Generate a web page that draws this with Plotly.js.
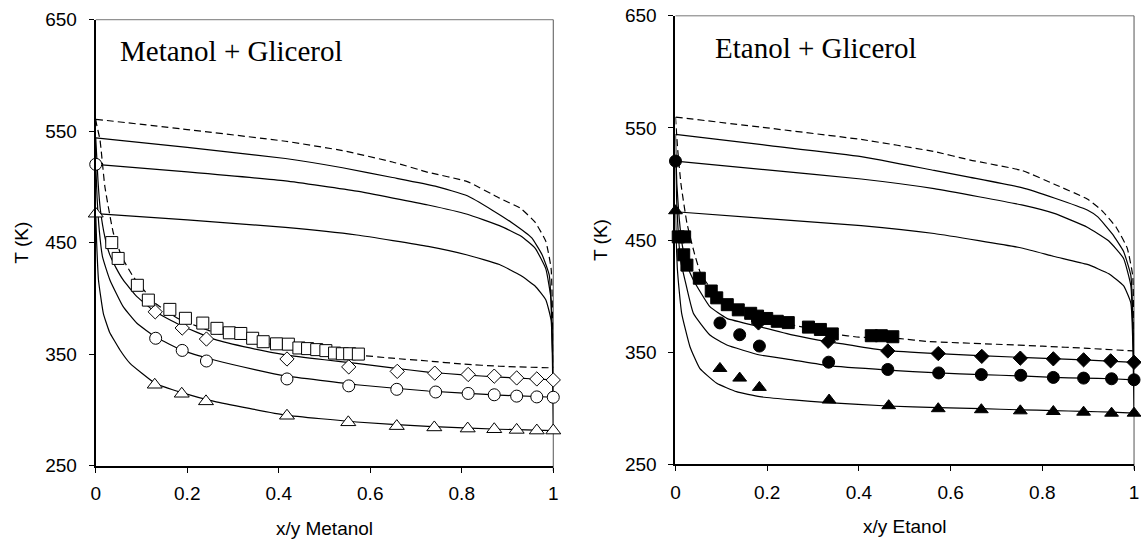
<!DOCTYPE html>
<html>
<head>
<meta charset="utf-8">
<script src="https://cdn.plot.ly/plotly-3.0.1.min.js"></script>
<style>html,body{margin:0;padding:0;background:#fff;}#chart{width:1141px;height:540px;}</style>
</head>
<body>
<div id="chart"></div>
<script>
// ---------- Metanol + Glicerol (left) ----------
var met_sq_x = [0.035,0.049,0.091,0.115,0.162,0.196,0.234,0.265,0.292,0.317,0.343,0.366,0.395,0.421,0.444,0.463,0.483,0.503,0.522,0.539,0.555,0.574];
var met_sq_T = [450.1,435.9,411.8,398.5,390.2,382.2,377.9,373.2,369.2,368.6,364.3,361.2,359.3,359.0,355.6,355.0,354.1,353.2,351.0,350.4,350.4,350.1];
var met_di_x = [0.130,0.189,0.242,0.418,0.553,0.659,0.741,0.814,0.871,0.920,0.964,1.0];
var met_di_T = [388.0,373.5,363.6,345.7,338.6,334.6,333.0,331.8,330.3,328.7,327.8,326.9];
var met_ci_x = [0,0.131,0.189,0.242,0.418,0.553,0.658,0.743,0.814,0.871,0.920,0.964,1.0];
var met_ci_T = [520.3,364.3,353.4,343.9,327.8,321.6,318.5,316.1,314.8,313.6,312.4,311.7,311.4];
var met_tr_x = [0,0.129,0.188,0.241,0.418,0.552,0.658,0.740,0.813,0.871,0.920,0.964,1.0];
var met_tr_T = [476.0,322.6,314.5,307.7,294.8,288.9,285.5,284.3,283.3,282.7,282.1,281.5,281.5];

var met_dash_bub_x = [0,0.002,0.0094,0.020,0.0385,0.057,0.082,0.13,0.181,0.259,0.337,0.415,0.57,0.648,0.726,0.804,0.882,1];
var met_dash_bub_T = [560.7,556,542,500.2,458.7,437.4,419.5,395.8,381.8,369.5,361.8,357.2,349.4,346.4,343.9,341.1,339.2,337.7];
var met_dash_dew_x = [0,0.2,0.4146,0.5394,0.6485,0.7264,0.8121,0.8823,0.929,0.9602,0.9836,0.9953,1];
var met_dash_dew_T = [560.7,551.5,541.0,532.6,522.4,513.2,504.8,490.0,480.7,468.4,451.4,426.7,337.7];
var met_dew1_x = [0,0.2,0.4146,0.5394,0.6485,0.742,0.8121,0.8667,0.9135,0.9525,0.9758,0.9914,1];
var met_dew1_T = [544,535.5,525.5,517.2,508.5,500.8,492.1,479.2,466.8,454.5,439,420.5,326.9];
var met_dew2_x = [0,0.2,0.4146,0.5705,0.7264,0.8121,0.8823,0.929,0.9602,0.9836,0.9953,1];
var met_dew2_T = [520.3,513.5,505.4,496.2,483.8,475.5,465.3,456,445.2,426.7,398.9,311.4];
var met_dew3_x = [0,0.2,0.4146,0.5705,0.7264,0.8121,0.8823,0.929,0.9602,0.9836,0.9953,1];
var met_dew3_T = [476,470.5,463.7,456.9,446.7,439,430.4,420.5,411.2,398.9,380.3,281.5];
var met_bub1_x = [0,0.005,0.01,0.02,0.03,0.045,0.06,0.09,0.13,0.184,0.26,0.337,0.415,0.5,0.57,0.648,0.726,0.804,0.882,0.95,1];
var met_bub1_T = [544,505,480,455,440,427,416.6,401.6,388,376.2,363.3,355.6,349.4,345,341.7,337.7,334,331.5,329.4,328,326.9];
var met_bub2_x = [0,0.003,0.008,0.015,0.031,0.06,0.09,0.132,0.189,0.259,0.35,0.415,0.57,0.726,0.882,1];
var met_bub2_T = [520.3,490,460,437,416.6,392.6,377.7,365.1,353.4,344.8,336,330.5,322.6,317,313.3,311.4];
var met_bub3_x = [0,0.002,0.006,0.0166,0.03,0.053,0.075,0.13,0.188,0.259,0.415,0.57,0.726,0.882,1];
var met_bub3_T = [476,450,416.6,386.7,370,353.8,341.8,323.9,315.5,307.7,295.4,289.2,285.2,282.7,281.5];

// ---------- Etanol + Glicerol (right) ----------
var eta_sq_x = [0.006,0.018,0.020,0.025,0.052,0.078,0.090,0.113,0.137,0.164,0.179,0.199,0.222,0.246,0.290,0.316,0.342,0.427,0.449,0.474];
var eta_sq_T = [452.8,436.8,452.8,427.6,415.9,404.5,398.4,392.3,387.7,384.6,382.1,380.0,377.5,376.3,372.3,370.2,366.2,364.6,364.6,363.7];
var eta_di_x = [0.181,0.333,0.463,0.573,0.668,0.752,0.824,0.890,0.949,1.0];
var eta_di_T = [376.0,359.6,351.0,348.7,346.2,344.6,344.0,343.1,342.2,340.9];
var eta_ci_x = [0,0.097,0.140,0.183,0.334,0.463,0.574,0.667,0.753,0.824,0.890,0.951,1.0];
var eta_ci_T = [520.4,376.0,365.5,355.4,341.0,334.5,331.4,329.9,329.3,327.4,326.8,326.2,325.3];
var eta_tr_x = [0,0.097,0.140,0.183,0.335,0.465,0.573,0.667,0.752,0.824,0.890,0.951,1.0];
var eta_tr_T = [476.1,335.4,326.8,318.5,307.2,302.2,299.5,298.6,297.6,297.0,296.4,295.5,295.5];

var eta_dash_bub_x = [0,0.005,0.012,0.025,0.04,0.055,0.08,0.11,0.15,0.2,0.3,0.35,0.4,0.49,0.55,0.7,0.8,0.9,1];
var eta_dash_bub_T = [559.7,530,500,465,440,420,405,395,386,379,370.5,366,363.3,362,359.5,357,355.3,353.3,351];
var eta_dash_dew_x = [0,0.2,0.405,0.564,0.643,0.755,0.826,0.898,0.929,0.961,0.985,0.997,1];
var eta_dash_dew_T = [559.7,550,539.7,528.9,521.3,512.1,499.8,486.6,476.7,461.4,443,418.4,351];
var eta_dew1_x = [0,0.2,0.405,0.564,0.643,0.755,0.826,0.898,0.921,0.953,0.977,0.993,1];
var eta_dew1_T = [544.3,534.5,524.4,512.1,505.9,496.7,487.5,476.7,470.6,455.2,439.9,418.4,340.9];
var eta_dew2_x = [0,0.2,0.405,0.564,0.755,0.826,0.898,0.945,0.977,0.993,1];
var eta_dew2_T = [520.4,512.5,504.4,495.8,481.3,473.7,461.4,449.1,433.7,409.2,325.3];
var eta_dew3_x = [0,0.2,0.405,0.564,0.755,0.826,0.898,0.945,0.977,0.993,1];
var eta_dew3_T = [475.2,469,462.9,455.8,442.9,435.3,428.2,419.9,409.2,393.8,295.5];
var eta_bub1_x = [0,0.003,0.008,0.015,0.025,0.039,0.075,0.112,0.184,0.257,0.333,0.463,0.573,0.752,0.89,1];
var eta_bub1_T = [544.3,500,470,445,428,414.3,390.5,380.1,372.6,365.2,359.3,351.3,348.6,345.3,343.1,340.9];
var eta_bub2_x = [0,0.003,0.007,0.012,0.0207,0.039,0.075,0.112,0.184,0.257,0.333,0.463,0.573,0.667,0.752,0.824,0.89,0.951,1];
var eta_bub2_T = [520.4,480,450,430,414.3,384.6,365.2,356.3,347.4,342.9,337.9,334.0,331.4,329.9,328.8,327.4,326.8,326.2,325.3];
var eta_bub3_x = [0,0.002,0.004,0.006,0.0135,0.0316,0.053,0.09,0.133,0.184,0.257,0.333,0.463,0.573,0.667,0.752,0.824,0.89,0.951,1];
var eta_bub3_T = [475.2,445,425,414.3,384.6,354.8,335.5,322.2,314.7,310.2,307.3,304.9,301.9,300.5,299.5,298.5,297.8,297.1,296.4,295.5];

// ---------- helpers ----------
var SANS = 'Liberation Sans, Arial, sans-serif';
function curve(x, y, ax, dashed) {
  return {x: x, y: y, xaxis: ax[0], yaxis: ax[1], mode: 'lines', hoverinfo: 'skip',
    line: {color: '#000', width: 1.2, dash: dashed ? '7px,4px' : 'solid', shape: 'spline', smoothing: 0.4},
    showlegend: false};
}
function pts(x, y, ax, sym, size, filled) {
  return {x: x, y: y, xaxis: ax[0], yaxis: ax[1], mode: 'markers', cliponaxis: false, showlegend: false,
    marker: {symbol: sym, size: size, color: filled ? '#000' : '#fff', line: {color: '#000', width: 1}}};
}
var L = ['x', 'y'], R = ['x2', 'y2'];
var traces = [
  curve(met_dash_dew_x, met_dash_dew_T, L, true),
  curve(met_dash_bub_x, met_dash_bub_T, L, true),
  curve(met_dew1_x, met_dew1_T, L, false),
  curve(met_dew2_x, met_dew2_T, L, false),
  curve(met_dew3_x, met_dew3_T, L, false),
  curve(met_bub1_x, met_bub1_T, L, false),
  curve(met_bub2_x, met_bub2_T, L, false),
  curve(met_bub3_x, met_bub3_T, L, false),
  pts(met_tr_x, met_tr_T, L, 'triangle-up', 13, false),
  pts(met_ci_x, met_ci_T, L, 'circle', 12, false),
  pts(met_di_x, met_di_T, L, 'diamond', 11, false),
  pts(met_sq_x, met_sq_T, L, 'square', 12, false),

  curve(eta_dash_dew_x, eta_dash_dew_T, R, true),
  curve(eta_dash_bub_x, eta_dash_bub_T, R, true),
  curve(eta_dew1_x, eta_dew1_T, R, false),
  curve(eta_dew2_x, eta_dew2_T, R, false),
  curve(eta_dew3_x, eta_dew3_T, R, false),
  curve(eta_bub1_x, eta_bub1_T, R, false),
  curve(eta_bub2_x, eta_bub2_T, R, false),
  curve(eta_bub3_x, eta_bub3_T, R, false),
  pts(eta_tr_x, eta_tr_T, R, 'triangle-up', 12, true),
  pts(eta_ci_x, eta_ci_T, R, 'circle', 12, true),
  pts(eta_di_x, eta_di_T, R, 'diamond', 11, true),
  pts(eta_sq_x, eta_sq_T, R, 'square', 12, true)
];

function xax(dom, anchor, label) {
  return {domain: dom, anchor: anchor, range: [0, 1], tickmode: 'array',
    tickvals: [0, 0.2, 0.4, 0.6, 0.8, 1], ticktext: ['0', '0.2', '0.4', '0.6', '0.8', '1'],
    ticks: 'outside', ticklen: 5, tickwidth: 1, tickcolor: '#000',
    showline: true, linecolor: '#000', linewidth: 2, showgrid: false, zeroline: false,
    ticklabelstandoff: 5,
    tickfont: {family: SANS, size: 19, color: '#000'},
    title: {text: label, font: {family: SANS, size: 19, color: '#000'}, standoff: 18}};
}
function yax(dom, anchor) {
  return {domain: dom, anchor: anchor, range: [250, 650], tickmode: 'array',
    tickvals: [250, 350, 450, 550, 650],
    ticks: 'outside', ticklen: 5, tickwidth: 1, tickcolor: '#000',
    showline: true, linecolor: '#000', linewidth: 2, showgrid: false, zeroline: false,
    ticklabelstandoff: 8,
    tickfont: {family: SANS, size: 19, color: '#000'},
    title: {text: 'T (K)', font: {family: SANS, size: 19, color: '#000'}, standoff: 12}};
}
function frame(xr, yr) {
  return [
    {type: 'line', xref: xr + ' domain', yref: yr + ' domain', x0: 0, x1: 1, y0: 1, y1: 1, layer: 'below', line: {color: '#777', width: 1}},
    {type: 'line', xref: xr + ' domain', yref: yr + ' domain', x0: 1, x1: 1, y0: -0.012, y1: 1, layer: 'below', line: {color: '#555', width: 1}}
  ];
}

var layout = {
  width: 1141, height: 540,
  margin: {l: 0, r: 0, t: 0, b: 0},
  paper_bgcolor: '#fff', plot_bgcolor: '#fff',
  showlegend: false,
  xaxis: xax([0.0839, 0.4849], 'y', 'x/y Metanol'),
  yaxis: yax([0.1376, 0.9635], 'x'),
  xaxis2: xax([0.5920, 0.9939], 'y2', 'x/y Etanol'),
  yaxis2: yax([0.1404, 0.9707], 'x2'),
  shapes: frame('x', 'y').concat(frame('x2', 'y2')),
  annotations: [
    {text: 'Metanol + Glicerol', xref: 'paper', yref: 'paper', x: 118 / 1141, y: 1 - 51 / 540,
     xanchor: 'left', yanchor: 'middle', showarrow: false,
     font: {family: 'Liberation Serif, Times New Roman, serif', size: 29, color: '#000'}},
    {text: 'Etanol + Glicerol', xref: 'paper', yref: 'paper', x: 713 / 1141, y: 1 - 48 / 540,
     xanchor: 'left', yanchor: 'middle', showarrow: false,
     font: {family: 'Liberation Serif, Times New Roman, serif', size: 29, color: '#000'}}
  ]
};

Plotly.newPlot('chart', traces, layout, {staticPlot: true, displayModeBar: false});
</script>
</body>
</html>
